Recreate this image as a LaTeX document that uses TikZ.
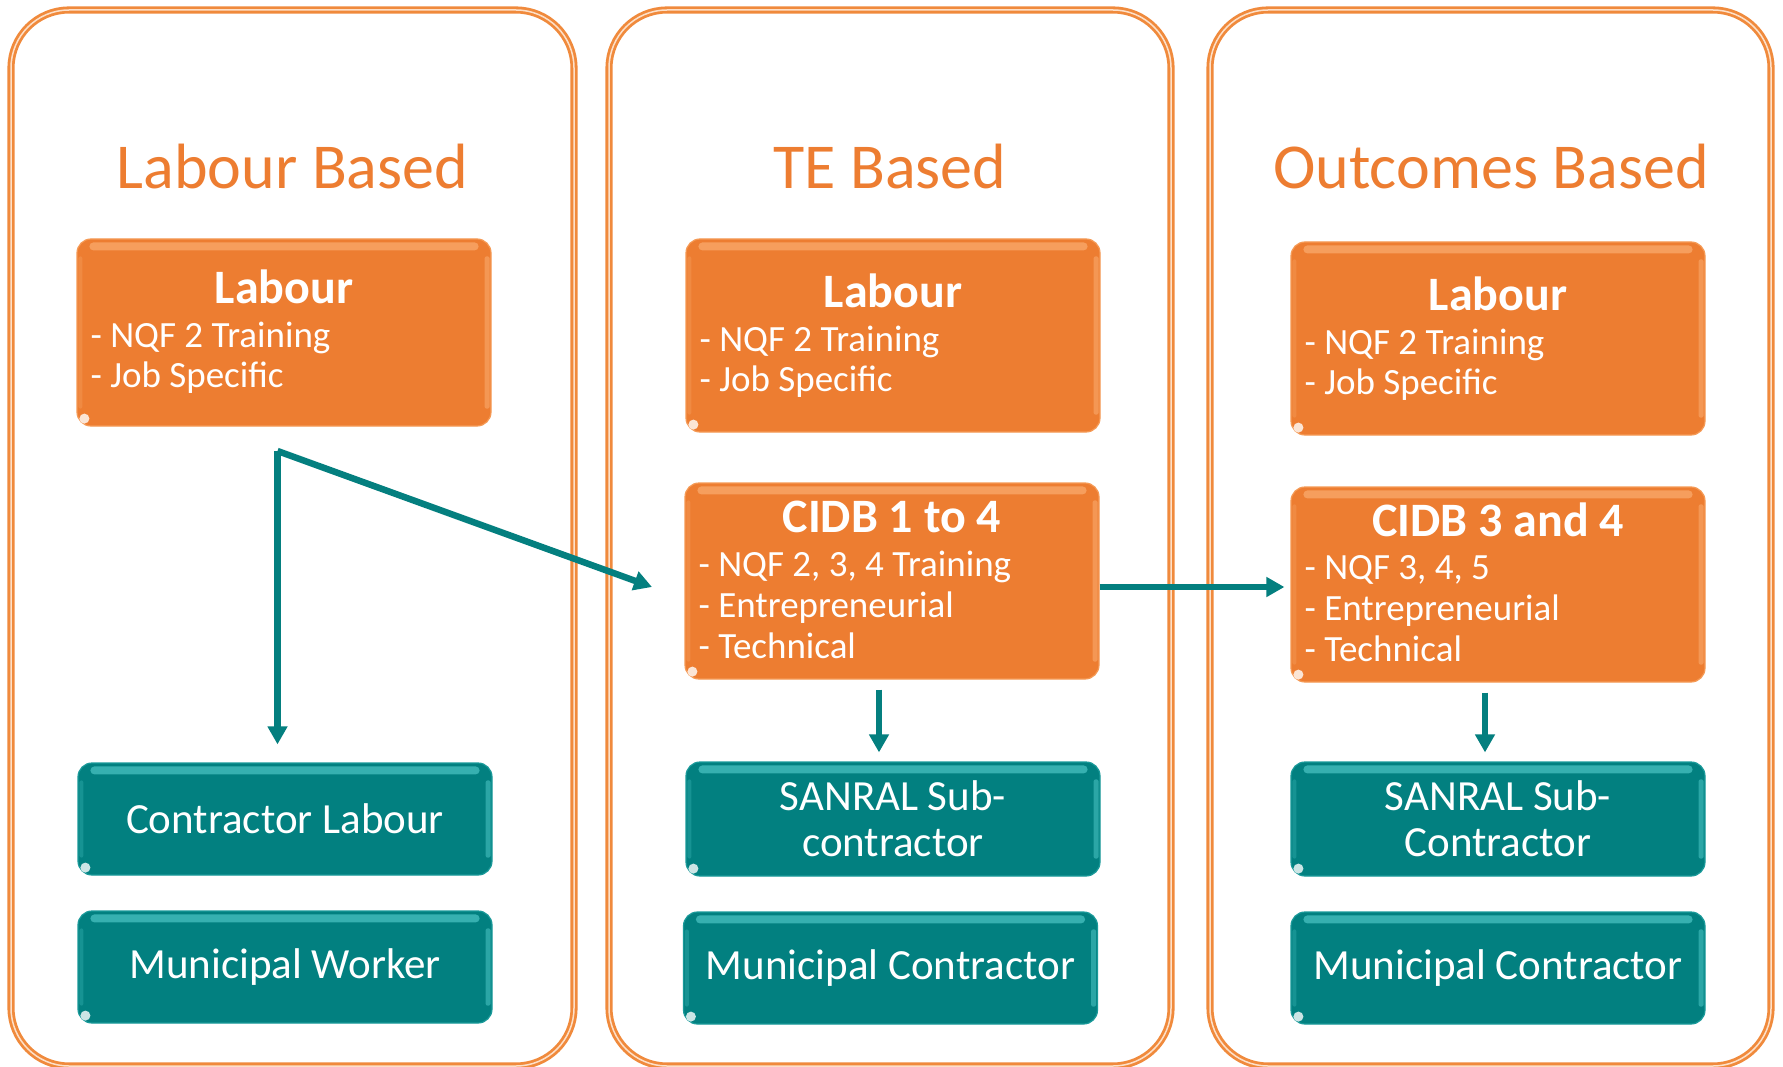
\documentclass[tikz,border=0pt]{standalone}
\usepackage{fontspec}
\setmainfont{Carlito}
\usetikzlibrary{arrows.meta}
\definecolor{boxor}{HTML}{ED7D31}
\definecolor{boxoredge}{HTML}{F59A55}
\definecolor{panelor}{HTML}{F08A3C}
\definecolor{panelin}{HTML}{FDE0C8}
\definecolor{titleor}{HTML}{ED7D31}
\definecolor{boxteal}{HTML}{028080}
\definecolor{tealedge}{HTML}{1A9A9A}
\definecolor{arrteal}{HTML}{047F7F}
\definecolor{orlight}{HTML}{FFC08A}
\definecolor{teallight}{HTML}{6AE0E0}
\newcommand\glossbox[3]{%
  \fill[#2, opacity=0.5, rounded corners=4pt] ([shift={(13,4)}]#1.north west) rectangle ([shift={(-13,12)}]#1.north east);
  \fill[#2, opacity=0.4, rounded corners=2pt] ([shift={(-7,18)}]#1.north east) rectangle ([shift={(-2,-18)}]#1.south east);
  \fill[#2, opacity=0.2, rounded corners=2pt] ([shift={(2,18)}]#1.north west) rectangle ([shift={(6,-18)}]#1.south west);
  \fill[#3, opacity=0.8] ([shift={(8,-8)}]#1.south west) circle[radius=5pt];
}
\tikzset{
  panel/.style={draw=panelor, double=panelin, double distance=1.5pt, line width=2.8pt, rounded corners=58pt},
  obox/.style={fill=boxor, draw=boxoredge, line width=1.2pt, rounded corners=14pt, inner sep=0pt, minimum width=414pt},
  tbox/.style={fill=boxteal, draw=tealedge, line width=1.2pt, rounded corners=14pt, inner sep=0pt,
    minimum width=414pt, text=white, align=center, font=\fontsize{43}{46}\selectfont},
  ttl/.style={text=titleor, anchor=base, font=\fontsize{64}{70}\selectfont},
  head/.style={text=white, anchor=base, font=\bfseries\fontsize{48}{52}\selectfont},
  item/.style={text=white, anchor=base west, inner sep=0pt, font=\fontsize{37}{41}\selectfont},
  conn/.style={draw=arrteal, line width=6.5pt, -{Triangle[width=19pt,length=18pt]}}
}
\begin{document}
\begin{tikzpicture}[x=1pt, y=-1pt]
\useasboundingbox (0,0) rectangle (1783,1067);
\fill[white] (0,0) rectangle (1783,1067);
\clip (0,0) rectangle (1783,1067);

% panels
\draw[panel] (11,10) rectangle (574,1066);
\draw[panel] (609,10) rectangle (1171,1066);
\draw[panel] (1210,10) rectangle (1771,1066);

% titles
\node[ttl] (t1) at (292.5,189) {Labour Based};
\node[ttl] (t2) at (890,189) {TE Based};
\node[ttl] (t3) at (1491,189) {Outcomes Based};

% orange boxes
\node[obox, minimum height=187pt] (A1) at (284,332.5) {};
\node[obox, minimum height=193pt] (A2) at (893,335.5) {};
\node[obox, minimum height=193pt] (A3) at (1498,338.5) {};
\node[obox, minimum height=196pt] (C2) at (892,581) {};
\node[obox, minimum height=195pt] (C3) at (1498,584.5) {};
\glossbox{A1}{orlight}{white}
\glossbox{A2}{orlight}{white}
\glossbox{A3}{orlight}{white}
\glossbox{C2}{orlight}{white}
\glossbox{C3}{orlight}{white}

% orange box texts
\node[head] (A1h) at ([shift={(0,65)}]A1.north) {Labour};
\node[item] (A1a) at ([shift={(14,109)}]A1.north west) {- NQF 2 Training};
\node[item] (A1b) at ([shift={(14,149)}]A1.north west) {- Job Specific};

\node[head] (A2h) at ([shift={(0,69)}]A2.north) {Labour};
\node[item] (A2a) at ([shift={(14,113)}]A2.north west) {- NQF 2 Training};
\node[item] (A2b) at ([shift={(14,153)}]A2.north west) {- Job Specific};

\node[head] (A3h) at ([shift={(0,69)}]A3.north) {Labour};
\node[item] (A3a) at ([shift={(14,113)}]A3.north west) {- NQF 2 Training};
\node[item] (A3b) at ([shift={(14,153)}]A3.north west) {- Job Specific};

\node[head] (C2h) at ([shift={(0,50)}]C2.north) {CIDB 1 to 4};
\node[item] (C2a) at ([shift={(14,94)}]C2.north west) {- NQF 2, 3, 4 Training};
\node[item] (C2b) at ([shift={(14,135)}]C2.north west) {- Entrepreneurial};
\node[item] (C2c) at ([shift={(14,176)}]C2.north west) {- Technical};

\node[head] (C3h) at ([shift={(0,50)}]C3.north) {CIDB 3 and 4};
\node[item] (C3a) at ([shift={(14,93)}]C3.north west) {- NQF 3, 4, 5};
\node[item] (C3b) at ([shift={(14,134)}]C3.north west) {- Entrepreneurial};
\node[item] (C3c) at ([shift={(14,175)}]C3.north west) {- Technical};

% teal boxes
\node[tbox, minimum height=112pt] (T1a) at (285,819) {};
\node[tbox, minimum height=112pt] (T1b) at (285,967) {};
\node[tbox, minimum height=114pt] (T2a) at (893,819) {};
\node[tbox, minimum height=112pt] (T2b) at (890.5,968) {};
\node[tbox, minimum height=114pt] (T3a) at (1498,819) {};
\node[tbox, minimum height=112pt] (T3b) at (1498,968) {};
\glossbox{T1a}{teallight}{white}
\glossbox{T1b}{teallight}{white}
\glossbox{T2a}{teallight}{white}
\glossbox{T2b}{teallight}{white}
\glossbox{T3a}{teallight}{white}
\glossbox{T3b}{teallight}{white}
\node[tbox, fill=none, draw=none, minimum height=0pt] (T1at) at (T1a) {Contractor Labour};
\node[tbox, fill=none, draw=none, minimum height=0pt] (T1bt) at (T1b) {Municipal Worker};
\node[tbox, fill=none, draw=none, minimum height=0pt] (T2at) at (T2a) {SANRAL Sub-\\contractor};
\node[tbox, fill=none, draw=none, minimum height=0pt] (T2bt) at (T2b) {Municipal Contractor};
\node[tbox, fill=none, draw=none, minimum height=0pt] (T3at) at (T3a) {SANRAL Sub-\\Contractor};
\node[tbox, fill=none, draw=none, minimum height=0pt] (T3bt) at (T3b) {Municipal Contractor};

% connectors
\coordinate (split) at (277.5,451);
\coordinate (diagend) at (652,587);
\coordinate (yarr) at (0,587);
\coordinate (x2) at (879,0);
\coordinate (x3) at (1485,0);
\draw[conn] (split) -- (split |- T1a.north) [shorten >=18pt];
\draw[conn] (split) -- (diagend);
\draw[conn] (C2.east |- yarr) -- (C3.west |- yarr) [shorten >=6pt];
\draw[conn] (C2.south -| x2) -- (T2a.north -| x2) [shorten <=10pt, shorten >=9pt];
\draw[conn] (C3.south -| x3) -- (T3a.north -| x3) [shorten <=10pt, shorten >=9pt];
\end{tikzpicture}
\end{document}
